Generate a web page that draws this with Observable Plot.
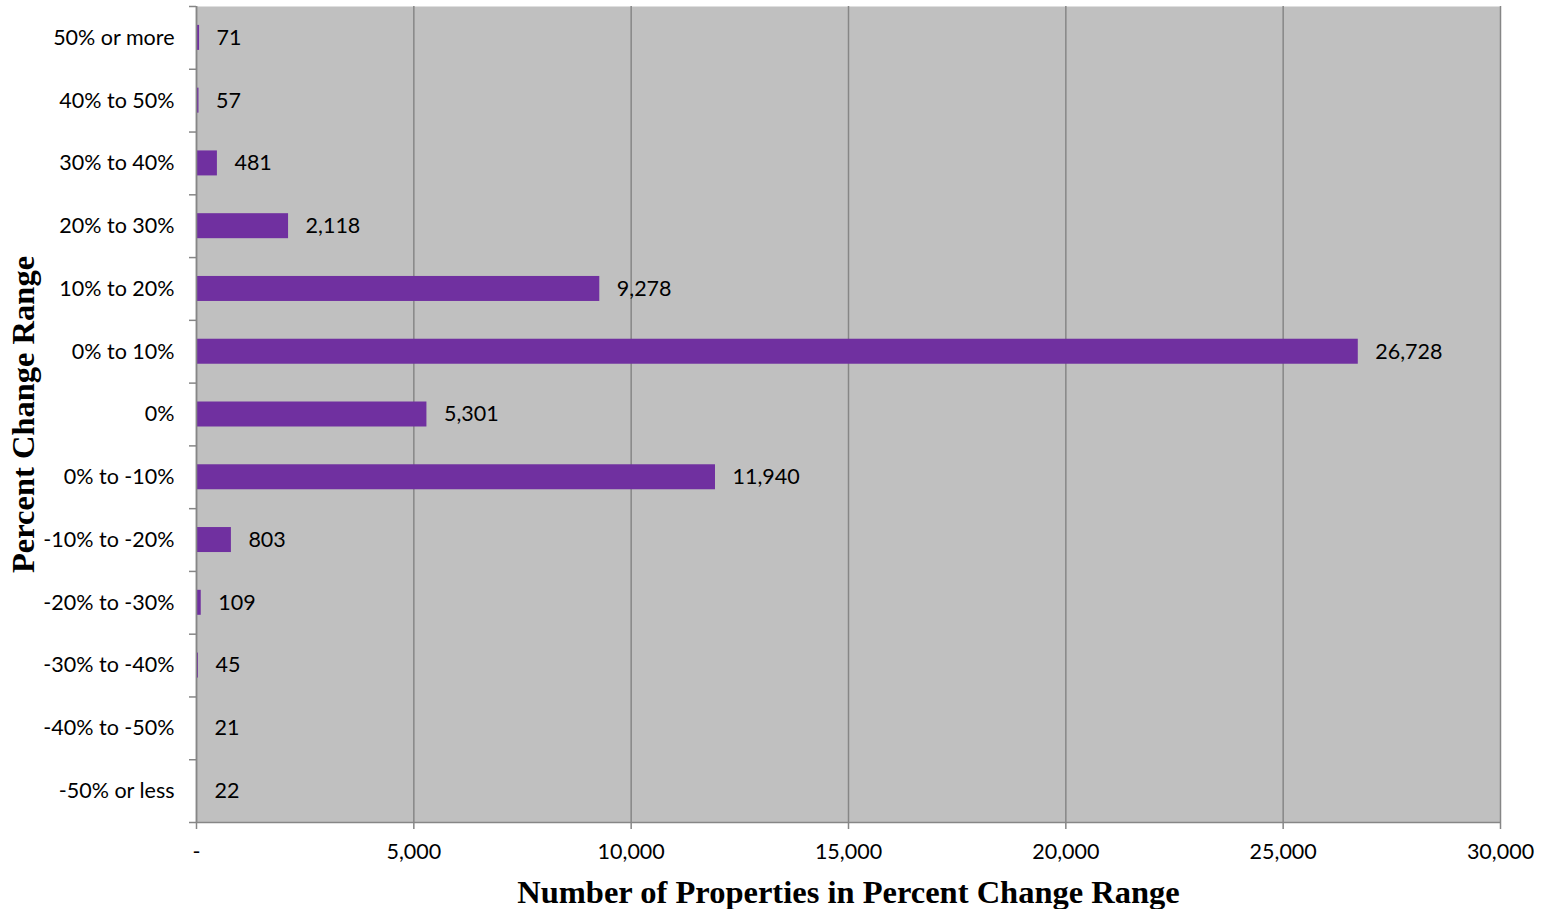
<!DOCTYPE html>
<html>
<head>
<meta charset="utf-8">
<script src="https://cdn.jsdelivr.net/npm/d3@7"></script>
<script src="https://cdn.jsdelivr.net/npm/@observablehq/plot@0.6"></script>
<style>
  html, body { margin: 0; padding: 0; background: #fff; overflow: hidden; }
  #chart svg { display: block; max-width: none; }
  #chart svg [aria-label="x-axis label"] text,
  #chart svg [aria-label="y-axis label"] text,
  #chart svg [aria-label="x-axis label"],
  #chart svg [aria-label="y-axis label"] {
    font-family: "Liberation Serif", "Times New Roman", serif;
    font-weight: bold;
    font-size: 32.5px;
  }
</style>
</head>
<body>
<div id="chart"></div>
<script>
const categories = ["50% or more", "40% to 50%", "30% to 40%", "20% to 30%", "10% to 20%", "0% to 10%", "0%", "0% to -10%", "-10% to -20%", "-20% to -30%", "-30% to -40%", "-40% to -50%", "-50% or less"];
const counts = [71, 57, 481, 2118, 9278, 26728, 5301, 11940, 803, 109, 45, 21, 22];
const xTicks = [0, 5000, 10000, 15000, 20000, 25000, 30000];
const xTitle = "Number of Properties in Percent Change Range";
const yTitle = "Percent Change Range";

const data = categories.map((c, i) => ({cat: c, value: counts[i]}));

const W = 1547, H = 909;
const mL = 196, mR = 47, mT = 6, mB = 87;
const step = (H - mT - mB) / categories.length;
const barH = 25;
const inset = (step - barH) / 2;
const axisColor = "#868686";
const fmt = d3.format(",");
const tickFont = "Lato, 'Open Sans', sans-serif";

const chart = Plot.plot({
  width: W,
  height: H,
  marginLeft: mL,
  marginRight: mR,
  marginTop: mT,
  marginBottom: mB,
  style: {fontFamily: tickFont, fontSize: "21.5px", color: "#000", background: "#fff"},
  x: {domain: [0, 30000]},
  y: {domain: categories, padding: 0, round: false},
  marks: [
    Plot.frame({fill: "#c0c0c0", stroke: null}),
    Plot.gridX(xTicks, {stroke: axisColor, strokeOpacity: 1, strokeWidth: 1.5}),
    Plot.barX(data, {x: "value", y: "cat", fill: "#7030a0", insetTop: inset, insetBottom: inset}),
    // category boundary ticks on the y axis
    Plot.ruleY(categories, {y: d => d, dy: -step / 2, x1: 0, x2: 0, insetLeft: -7, stroke: axisColor, strokeWidth: 1.5}),
    Plot.ruleY(categories.slice(-1), {y: d => d, dy: step / 2, x1: 0, x2: 0, insetLeft: -7, stroke: axisColor, strokeWidth: 1.5}),
    Plot.ruleX([0], {stroke: axisColor, strokeWidth: 1.5}),
    Plot.ruleY([categories[categories.length - 1]], {y: d => d, dy: step / 2, stroke: axisColor, strokeWidth: 1.5}),
    Plot.axisY({tickSize: 0, tickPadding: 22, fontSize: 21.5, label: yTitle, labelAnchor: "center", labelArrow: "none", labelOffset: 186}),
    Plot.axisX(xTicks, {tickSize: 7, tickPadding: 14, stroke: axisColor, strokeWidth: 1.5, fontSize: 21.5,
      tickFormat: d => d === 0 ? "-" : fmt(d),
      label: xTitle, labelAnchor: "center", labelArrow: "none", labelOffset: 80}),
    Plot.text(data, {x: "value", y: "cat", text: d => fmt(d.value), textAnchor: "start", dx: 17, fontSize: 21.5, fill: "#000"})
  ]
});
document.getElementById("chart").appendChild(chart);
</script>
</body>
</html>
